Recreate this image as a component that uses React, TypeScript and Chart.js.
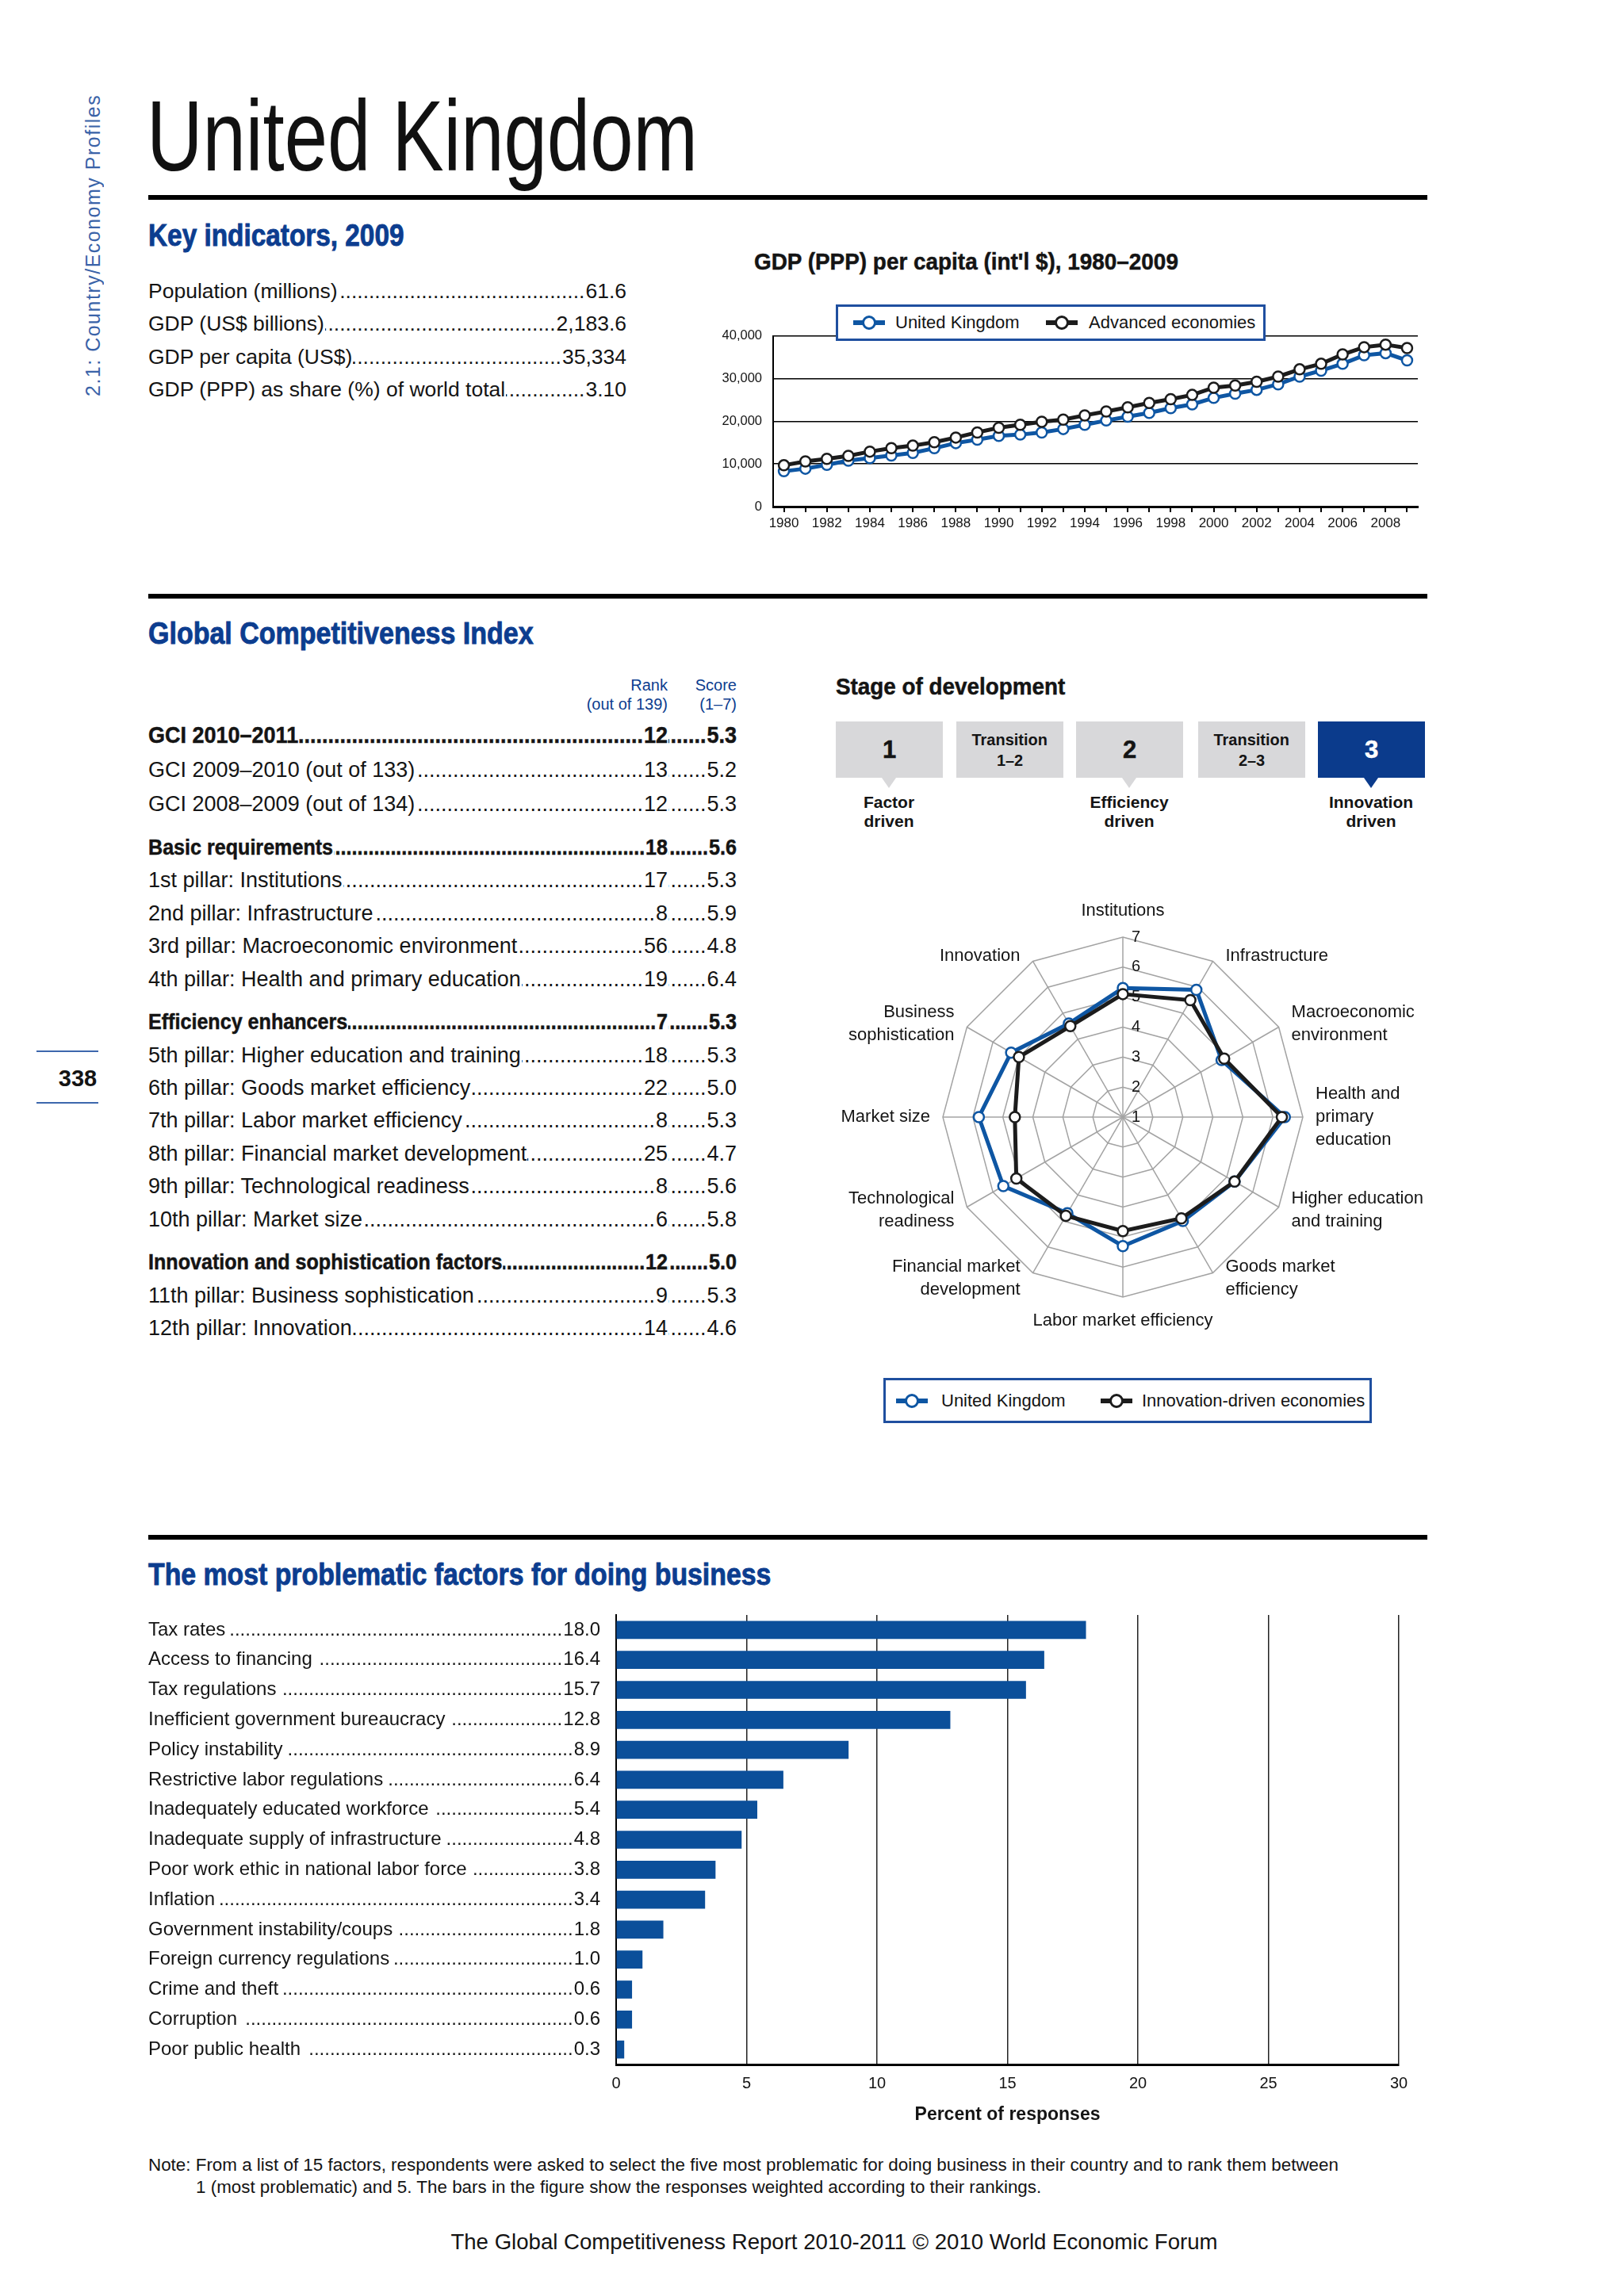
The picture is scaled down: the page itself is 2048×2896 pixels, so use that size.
import React, { useEffect, useRef } from 'react';
import { Chart, registerables } from 'chart.js';

Chart.register(...registerables);

// ---------------- DATA ----------------
const KEY_LABELS = ['Population (millions)', 'GDP (US$ billions)', 'GDP per capita (US$)', 'GDP (PPP) as share (%) of world total'];
const KEY_VALUES = ['61.6', '2,183.6', '35,334', '3.10'];

const YEARS = ['1980', '1981', '1982', '1983', '1984', '1985', '1986', '1987', '1988', '1989', '1990', '1991', '1992', '1993', '1994', '1995', '1996', '1997', '1998', '1999', '2000', '2001', '2002', '2003', '2004', '2005', '2006', '2007', '2008', '2009'];
const GDP_UK = [8300, 8900, 9800, 10800, 11400, 12000, 12600, 13700, 14900, 15700, 16600, 16900, 17400, 18200, 19200, 20200, 21100, 22000, 23100, 24000, 25500, 26500, 27400, 28700, 30500, 31900, 33500, 35500, 36000, 34300];
const GDP_ADV = [9700, 10600, 11200, 11900, 12900, 13700, 14300, 15100, 16200, 17400, 18500, 19200, 19900, 20400, 21400, 22300, 23300, 24300, 25200, 26200, 27900, 28400, 29300, 30500, 32200, 33500, 35700, 37400, 38000, 37200];
const GDP_SERIES = ['United Kingdom', 'Advanced economies'];

const GCI_LABELS = ['GCI 2010–2011', 'GCI 2009–2010 (out of 133)', 'GCI 2008–2009 (out of 134)', 'Basic requirements', '1st pillar: Institutions', '2nd pillar: Infrastructure', '3rd pillar: Macroeconomic environment', '4th pillar: Health and primary education', 'Efficiency enhancers', '5th pillar: Higher education and training', '6th pillar: Goods market efficiency', '7th pillar: Labor market efficiency', '8th pillar: Financial market development', '9th pillar: Technological readiness', '10th pillar: Market size', 'Innovation and sophistication factors', '11th pillar: Business sophistication', '12th pillar: Innovation'];
const GCI_RANKS = ['12', '13', '12', '18', '17', '8', '56', '19', '7', '18', '22', '8', '25', '8', '6', '12', '9', '14'];
const GCI_SCORES = ['5.3', '5.2', '5.3', '5.6', '5.3', '5.9', '4.8', '6.4', '5.3', '5.3', '5.0', '5.3', '4.7', '5.6', '5.8', '5.0', '5.3', '4.6'];

const STAGE_BOXES = [['1'], ['Transition', '1–2'], ['2'], ['Transition', '2–3'], ['3']];
const STAGE_NAMES = [['Factor', 'driven'], null, ['Efficiency', 'driven'], null, ['Innovation', 'driven']];
const CURRENT_STAGE = 4;

const RADAR_LABELS = [['Institutions'], ['Infrastructure'], ['Macroeconomic', 'environment'], ['Health and', 'primary', 'education'], ['Higher education', 'and training'], ['Goods market', 'efficiency'], ['Labor market efficiency'], ['Financial market', 'development'], ['Technological', 'readiness'], ['Market size'], ['Business', 'sophistication'], ['Innovation']];
const RADAR_UK = [5.3, 5.9, 4.8, 6.4, 5.3, 5.0, 5.3, 4.7, 5.6, 5.8, 5.3, 4.6];
const RADAR_IDE = [5.1, 5.5, 4.9, 6.3, 5.3, 4.9, 4.8, 4.8, 5.1, 4.6, 5.0, 4.5];
const RADAR_TICKS = ['1', '2', '3', '4', '5', '6', '7'];
const RADAR_SERIES = ['United Kingdom', 'Innovation-driven economies'];

const FACTORS = ['Tax rates', 'Access to financing', 'Tax regulations', 'Inefficient government bureaucracy', 'Policy instability', 'Restrictive labor regulations', 'Inadequately educated workforce', 'Inadequate supply of infrastructure', 'Poor work ethic in national labor force', 'Inflation', 'Government instability/coups', 'Foreign currency regulations', 'Crime and theft', 'Corruption', 'Poor public health'];
const FACTOR_VALUES = [18.0, 16.4, 15.7, 12.8, 8.9, 6.4, 5.4, 4.8, 3.8, 3.4, 1.8, 1.0, 0.6, 0.6, 0.3];

// ---------------- STYLE / LAYOUT ----------------
const FONT = '"Liberation Sans", Arial, Helvetica, sans-serif';
const HEAD_BLUE = '#0c3d8f';
const BOX_BLUE = '#0b3b8c';
const LEGEND_BORDER = '#1f4f9f';
const UK_BLUE = '#0e56a3';
const DARK = '#1c1c1c';
const BAR_BLUE = '#0b4f9a';
const TEXT = '#141414';
const DOTS = '.'.repeat(400);

const GCI_ROW_Y = [927, 971, 1014, 1069, 1110, 1152, 1193, 1235, 1289, 1331, 1372, 1413, 1455, 1496, 1538, 1592, 1634, 1675];
const GCI_BOLD_ROWS = [0, 3, 8, 15];
const KEY_ROW_Y = [367, 408, 450, 491];
const STAGE_X = [1054, 1206, 1357, 1511, 1662];
const HEAVY = { WebkitTextStroke: '0.9px currentColor' };
const SEMI = { WebkitTextStroke: '0.5px currentColor' };

// ---------------- HELPERS ----------------
function Txt(props: any) {
  const { x, y, size, children, weight = 400, color = TEXT, family = FONT, align = 'left', sx = 1, style = {} } = props;
  const lh = Math.round(size * 1.25);
  const s: any = { position: 'absolute', top: y - lh / 2, lineHeight: lh + 'px', fontSize: size, fontWeight: weight, color, fontFamily: family, whiteSpace: 'nowrap', ...style };
  if (align === 'left') { s.left = x; s.transformOrigin = 'left center'; s.transform = `scaleX(${sx})`; }
  else if (align === 'right') { s.right = 2048 - x; s.transformOrigin = 'right center'; s.transform = `scaleX(${sx})`; }
  else { s.left = x; s.transformOrigin = 'center center'; s.transform = `translateX(-50%) scaleX(${sx})`; }
  return <div style={s}>{children}</div>;
}

function Leader(props: any) {
  const { x, y, w, size, weight = 400, label, value, sx = 1, style = {} } = props;
  const lh = Math.round(size * 1.25);
  return (
    <div style={{ position: 'absolute', left: x, top: y - lh / 2, width: w / sx, transform: `scaleX(${sx})`, transformOrigin: 'left center', display: 'flex', lineHeight: lh + 'px', fontSize: size, fontWeight: weight, fontFamily: FONT, color: TEXT, whiteSpace: 'nowrap', ...style }}>
      {label ? <span>{label}</span> : null}
      <span style={{ flex: 1, minWidth: 0, overflow: 'hidden', direction: 'rtl', margin: '0 1px' }}>{DOTS}</span>
      <span>{value}</span>
    </div>
  );
}

function Rule({ y }: any) {
  return <div style={{ position: 'absolute', left: 187, top: y, width: 1613, height: 6, background: '#000' }} />;
}

function LegendIcon({ color }: any) {
  return (
    <span style={{ position: 'relative', display: 'inline-block', width: 40, height: 20 }}>
      <span style={{ position: 'absolute', left: 0, right: 0, top: 7, height: 6, background: color }} />
      <span style={{ position: 'absolute', left: 11, top: 1, width: 12, height: 12, borderRadius: '50%', border: `3px solid ${color}`, background: '#fff' }} />
    </span>
  );
}

function LegendBox(props: any) {
  const { left, top, width, height, items } = props;
  return (
    <div style={{ position: 'absolute', left, top, width, height, boxSizing: 'border-box', border: `3px solid ${LEGEND_BORDER}`, background: '#fff', zIndex: 5 }}>
      {items.map((it: any, i: number) => (
        <React.Fragment key={i}>
          <div style={{ position: 'absolute', left: it.iconX - left, top: height / 2 - 13 }}><LegendIcon color={it.color} /></div>
          <div style={{ position: 'absolute', left: it.textX - left, top: 0, height: height - 6, lineHeight: (height - 6) + 'px', fontFamily: FONT, fontSize: 22, color: TEXT, whiteSpace: 'nowrap' }}>{it.text}</div>
        </React.Fragment>
      ))}
    </div>
  );
}

function ChartBox(props: any) {
  const { left, top, width, height, make } = props;
  const ref = useRef<HTMLCanvasElement>(null);
  useEffect(() => {
    const chart = new Chart(ref.current as HTMLCanvasElement, make());
    return () => chart.destroy();
  }, []);
  return (
    <div style={{ position: 'absolute', left, top, width, height }}>
      <canvas ref={ref} />
    </div>
  );
}

// ---------------- CHART CONFIGS ----------------
function gdpConfig(): any {
  const ds = (label: string, data: number[], color: string, order: number) => ({
    label, data, borderColor: color, backgroundColor: '#fff', borderWidth: 5, tension: 0,
    pointRadius: 6.5, pointBorderWidth: 2.5, pointBackgroundColor: '#fff', pointBorderColor: color, order,
  });
  return {
    type: 'line',
    data: { labels: YEARS, datasets: [ds(GDP_SERIES[0], GDP_UK, UK_BLUE, 2), ds(GDP_SERIES[1], GDP_ADV, DARK, 1)] },
    options: {
      animation: false, responsive: true, maintainAspectRatio: false,
      layout: { padding: { top: 23, right: 12, left: 0, bottom: 0 } },
      plugins: { legend: { display: false }, tooltip: { enabled: false } },
      scales: {
        x: {
          type: 'category', offset: true,
          grid: { drawOnChartArea: false, color: '#000', lineWidth: 2, tickLength: 7 },
          border: { color: '#000', width: 3 },
          ticks: { autoSkip: false, maxRotation: 0, minRotation: 0, padding: 4, color: TEXT, font: { family: FONT, size: 17 }, callback: (_v: any, i: number) => (i % 2 === 0 ? YEARS[i] : '') },
          afterFit: (s: any) => { s.height = 51; },
        },
        y: {
          min: 0, max: 40000,
          ticks: { stepSize: 10000, padding: 14, color: TEXT, font: { family: FONT, size: 16.5 }, callback: (v: any) => Number(v).toLocaleString('en-US') },
          grid: { color: '#000', lineWidth: 1.5, drawTicks: false },
          border: { color: '#000', width: 2 },
          afterFit: (s: any) => { s.width = 95; },
        },
      },
    },
  };
}

const radarTextPlugin = {
  id: 'radarText',
  beforeDatasetsDraw(chart: any) {
    const sc = chart.scales.r;
    const ctx = chart.ctx;
    ctx.save();
    ctx.font = `20px ${FONT}`;
    ctx.fillStyle = TEXT;
    ctx.textAlign = 'left';
    ctx.textBaseline = 'middle';
    RADAR_TICKS.forEach((t) => {
      const d = sc.getDistanceFromCenterForValue(Number(t));
      ctx.fillText(t, sc.xCenter + 11, sc.yCenter - d);
    });
    ctx.restore();
  },
  afterDraw(chart: any) {
    const sc = chart.scales.r;
    const ctx = chart.ctx;
    const r = sc.drawingArea;
    const lh = 29;
    ctx.save();
    ctx.font = `22px ${FONT}`;
    ctx.fillStyle = TEXT;
    ctx.textBaseline = 'middle';
    const n = RADAR_LABELS.length;
    RADAR_LABELS.forEach((lines, i) => {
      const a = (i * Math.PI * 2) / n;
      const s = Math.sin(a), c = Math.cos(a);
      const p = sc.getPointPosition(i, r);
      let x = p.x, yc = p.y;
      if (Math.abs(s) < 0.01) {
        ctx.textAlign = 'center';
        yc = c > 0 ? p.y - 33 : p.y + 30;
      } else {
        ctx.textAlign = s > 0 ? 'left' : 'right';
        x = p.x + (s > 0 ? 16 : -16);
        yc = p.y - c * 8;
      }
      const y0 = yc - ((lines.length - 1) * lh) / 2;
      lines.forEach((ln, k) => ctx.fillText(ln, x, y0 + k * lh));
    });
    ctx.restore();
  },
};

function radarConfig(): any {
  const ds = (label: string, data: number[], color: string, order: number) => ({
    label, data, borderColor: color, backgroundColor: 'rgba(0,0,0,0)', fill: false, borderWidth: 5,
    pointRadius: 6.5, pointBorderWidth: 2.5, pointBackgroundColor: '#fff', pointBorderColor: color, order,
  });
  return {
    type: 'radar',
    data: { labels: RADAR_LABELS, datasets: [ds(RADAR_SERIES[0], RADAR_UK, UK_BLUE, 2), ds(RADAR_SERIES[1], RADAR_IDE, DARK, 1)] },
    options: {
      animation: false, responsive: true, maintainAspectRatio: false,
      layout: { padding: { left: 149, right: 157, top: 62, bottom: 74 } },
      plugins: { legend: { display: false }, tooltip: { enabled: false } },
      elements: { line: { tension: 0 } },
      scales: {
        r: {
          min: 1, max: 7,
          ticks: { stepSize: 1, display: false },
          pointLabels: { display: false },
          grid: { color: '#a3a3a3', lineWidth: 1.5 },
          angleLines: { color: '#a3a3a3', lineWidth: 1.5 },
        },
      },
    },
    plugins: [radarTextPlugin],
  };
}

const barLabelPlugin = {
  id: 'barLabels',
  afterDraw(chart: any) {
    const ys = chart.scales.y;
    const ctx = chart.ctx;
    const xL = 7, xR = 577;
    ctx.save();
    ctx.font = `24px ${FONT}`;
    ctx.fillStyle = TEXT;
    ctx.textBaseline = 'middle';
    const dw = ctx.measureText('.').width;
    FACTORS.forEach((lab, i) => {
      const y = ys.getPixelForValue(i);
      const val = FACTOR_VALUES[i].toFixed(1);
      ctx.textAlign = 'left';
      ctx.fillText(lab, xL, y);
      ctx.textAlign = 'right';
      ctx.fillText(val, xR, y);
      const lw = ctx.measureText(lab).width;
      const vw = ctx.measureText(val).width;
      const start = xL + lw + 4, end = xR - vw - 1;
      const cnt = Math.max(0, Math.floor((end - start) / dw));
      ctx.fillText('.'.repeat(cnt), end, y);
    });
    ctx.restore();
  },
};

function barConfig(): any {
  return {
    type: 'bar',
    data: { labels: FACTORS, datasets: [{ data: FACTOR_VALUES, backgroundColor: BAR_BLUE, barThickness: 22, borderWidth: 0 }] },
    options: {
      indexAxis: 'y', animation: false, responsive: true, maintainAspectRatio: false,
      layout: { padding: { top: 17, right: 36, left: 0, bottom: 0 } },
      plugins: { legend: { display: false }, tooltip: { enabled: false } },
      scales: {
        x: {
          min: 0, max: 30,
          ticks: { stepSize: 5, padding: 12, color: TEXT, font: { family: FONT, size: 20 } },
          grid: { color: '#222', lineWidth: 1.5, drawTicks: false },
          border: { color: '#000', width: 3 },
          title: { display: true, text: 'Percent of responses', color: TEXT, font: { family: FONT, size: 23, weight: 'bold' }, padding: { top: 0, bottom: 13 } },
          afterFit: (s: any) => { s.height = 90; },
        },
        y: {
          ticks: { display: false },
          grid: { display: false },
          border: { color: '#000', width: 2 },
          afterFit: (s: any) => { s.width = 597; },
        },
      },
    },
    plugins: [barLabelPlugin],
  };
}

// ---------------- APP ----------------
export default function App() {
  return (
    <div style={{ position: 'absolute', left: 0, top: 0, width: 2048, height: 2896, background: '#fff', overflow: 'hidden' }}>
      {/* side label */}
      <div style={{ position: 'absolute', left: 103, top: 120, height: 380, writingMode: 'vertical-rl', transform: 'rotate(180deg)', fontFamily: FONT, fontSize: 25, letterSpacing: 1.5, color: '#3a63a8', whiteSpace: 'nowrap', textAlign: 'left' }}>
        2.1: Country/Economy Profiles
      </div>

      {/* page number */}
      <div style={{ position: 'absolute', left: 46, top: 1325, width: 78, height: 2, background: '#3d67ad' }} />
      <Txt x={98} y={1360} size={29} weight={700} align="center">338</Txt>
      <div style={{ position: 'absolute', left: 46, top: 1390, width: 78, height: 2, background: '#3d67ad' }} />

      {/* title */}
      <Txt x={185} y={172} size={126} sx={0.775} color="#111">United Kingdom</Txt>
      <Rule y={246} />

      {/* key indicators */}
      <Txt x={187} y={296} size={39} weight={700} sx={0.855} color={HEAD_BLUE} style={HEAVY}>Key indicators, 2009</Txt>
      {KEY_LABELS.map((l, i) => (
        <Leader key={i} x={187} y={KEY_ROW_Y[i]} w={603} size={26.5} label={l} value={KEY_VALUES[i]} />
      ))}

      {/* GDP chart */}
      <Txt x={951} y={330} size={30} weight={700} sx={0.93} style={SEMI}>GDP (PPP) per capita (int'l $), 1980–2009</Txt>
      <ChartBox left={880} top={400} width={920} height={290} make={gdpConfig} />
      <LegendBox left={1054} top={384} width={542} height={46} items={[
        { iconX: 1073, textX: 1126, text: GDP_SERIES[0], color: UK_BLUE },
        { iconX: 1316, textX: 1370, text: GDP_SERIES[1], color: DARK },
      ]} />

      <Rule y={749} />

      {/* GCI */}
      <Txt x={187} y={798} size={39} weight={700} sx={0.872} color={HEAD_BLUE} style={HEAVY}>Global Competitiveness Index</Txt>
      <Txt x={842} y={864} size={20} color={HEAD_BLUE} align="right">Rank</Txt>
      <Txt x={842} y={888} size={20} color={HEAD_BLUE} align="right">(out of 139)</Txt>
      <Txt x={929} y={864} size={20} color={HEAD_BLUE} align="right">Score</Txt>
      <Txt x={929} y={888} size={20} color={HEAD_BLUE} align="right">(1–7)</Txt>
      {GCI_LABELS.map((l, i) => {
        const bold = GCI_BOLD_ROWS.includes(i);
        const size = i === 0 ? 30 : 27;
        const sx = bold ? (i === 0 ? 0.9 : 0.93) : 1;
        const st = bold ? SEMI : {};
        return (
          <React.Fragment key={i}>
            <Leader x={187} y={GCI_ROW_Y[i]} w={655} size={size} sx={sx} weight={bold ? 700 : 400} label={l} value={GCI_RANKS[i]} style={st} />
            <Leader x={842} y={GCI_ROW_Y[i]} w={87} size={size} sx={sx} weight={bold ? 700 : 400} label="" value={GCI_SCORES[i]} style={st} />
          </React.Fragment>
        );
      })}

      {/* Stage of development */}
      <Txt x={1054} y={866} size={29} weight={700} sx={0.96} style={SEMI}>Stage of development</Txt>
      {STAGE_BOXES.map((lines, i) => {
        const cur = i === CURRENT_STAGE;
        const bg = cur ? BOX_BLUE : '#d8d8da';
        const cx = STAGE_X[i] + 67;
        return (
          <React.Fragment key={i}>
            <div style={{ position: 'absolute', left: STAGE_X[i], top: 910, width: 135, height: 71, background: bg, color: cur ? '#fff' : TEXT, fontFamily: FONT, fontWeight: 700, display: 'flex', flexDirection: 'column', alignItems: 'center', justifyContent: 'center' }}>
              {lines.length === 1
                ? <div style={{ fontSize: 31, lineHeight: '36px', WebkitTextStroke: '0.5px currentColor' }}>{lines[0]}</div>
                : lines.map((ln, k) => <div key={k} style={{ fontSize: 21, lineHeight: '26px', transform: 'scaleX(0.95)' }}>{ln}</div>)}
            </div>
            {STAGE_NAMES[i] ? (
              <>
                <div style={{ position: 'absolute', left: cx - 9, top: 981, width: 0, height: 0, borderLeft: '9px solid transparent', borderRight: '9px solid transparent', borderTop: `13px solid ${bg}` }} />
                {(STAGE_NAMES[i] as string[]).map((ln, k) => (
                  <Txt key={k} x={cx} y={1012 + k * 24} size={21} weight={700} align="center">{ln}</Txt>
                ))}
              </>
            ) : null}
          </React.Fragment>
        );
      })}

      {/* Radar */}
      <ChartBox left={1040} top={1120} width={760} height={590} make={radarConfig} />
      <LegendBox left={1114} top={1738} width={616} height={57} items={[
        { iconX: 1127, textX: 1184, text: RADAR_SERIES[0], color: UK_BLUE },
        { iconX: 1385, textX: 1437, text: RADAR_SERIES[1], color: DARK },
      ]} />

      <Rule y={1936} />

      {/* Problematic factors */}
      <Txt x={187} y={1985} size={39} weight={700} sx={0.867} color={HEAD_BLUE} style={HEAVY}>The most problematic factors for doing business</Txt>
      <ChartBox left={180} top={2020} width={1620} height={674} make={barConfig} />

      <Txt x={187} y={2731} size={22.4}>Note: From a list of 15 factors, respondents were asked to select the five most problematic for doing business in their country and to rank them between</Txt>
      <Txt x={247} y={2759} size={22.4}>1 (most problematic) and 5. The bars in the figure show the responses weighted according to their rankings.</Txt>

      <Txt x={1052} y={2827} size={27.6} align="center">The Global Competitiveness Report 2010-2011 © 2010 World Economic Forum</Txt>
    </div>
  );
}
